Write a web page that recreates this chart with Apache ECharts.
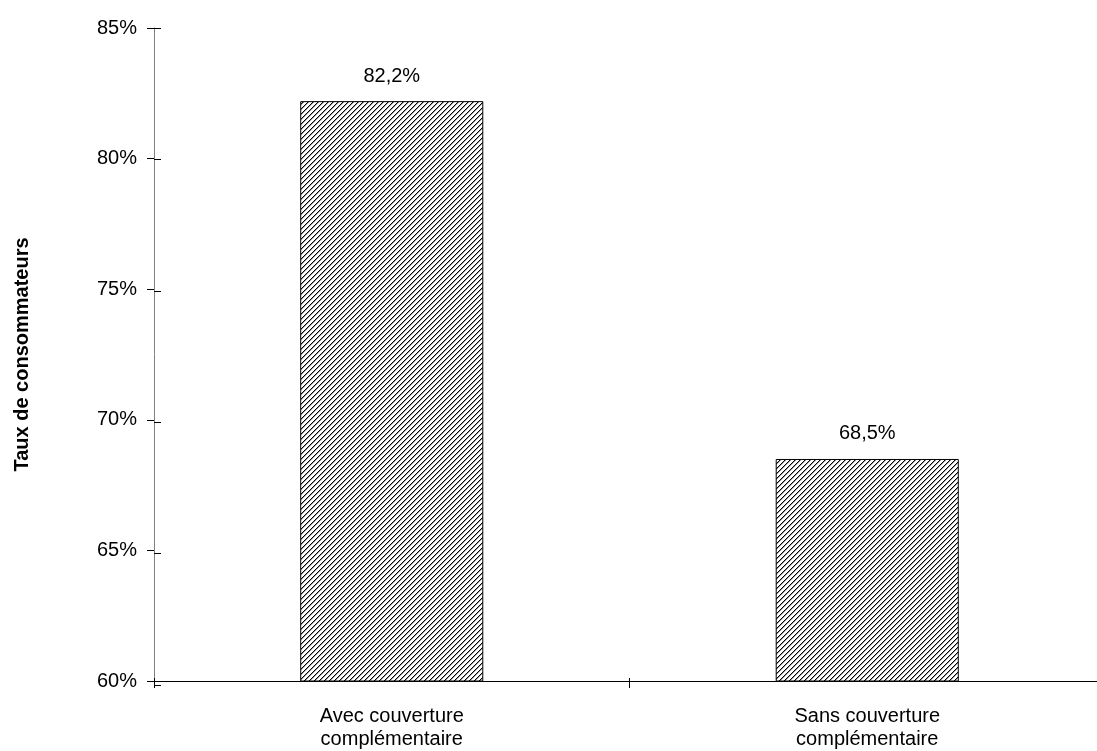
<!DOCTYPE html>
<html><head><meta charset="utf-8">
<script src="https://cdn.jsdelivr.net/npm/echarts@6/dist/echarts.min.js"></script>
<style>html,body{margin:0;padding:0;background:#fff;overflow:hidden}#c{width:1105px;height:751px}</style>
</head><body><div id="c"></div>
<script>
const categories = ['Avec couverture\ncomplémentaire', 'Sans couverture\ncomplémentaire'];
const values = [82.2, 68.5];
const yTicks = [60, 65, 70, 75, 80, 85];

const T = 5;
const tile = document.createElement('canvas');
tile.width = T; tile.height = T;
const g = tile.getContext('2d');
g.fillStyle = '#fff'; g.fillRect(0,0,T,T);
for (let i = 0; i < T; i++) {
  g.fillStyle = '#000'; g.fillRect(i, T - 1 - i, 1, 1);
  g.fillStyle = '#999'; g.fillRect((i + 1) % T, T - 1 - i, 1, 1);
}

const chart = echarts.init(document.getElementById('c'));
const font = 'Liberation Sans, Arial, sans-serif';
const FS = 20;
const gridBox = {left: 154, top: 28, right: 0, bottom: 66};
chart.setOption({
  animation: false,
  grid: [Object.assign({}, gridBox), Object.assign({}, gridBox)],
  xAxis: [{
    type: 'category', data: categories, gridIndex: 0,
    axisLine: {lineStyle: {color: '#000', width: 1}},
    axisTick: {show: true, length: 7, lineStyle: {color: '#000'}},
    axisLabel: {color: '#000', fontFamily: font, fontSize: FS, lineHeight: 23, margin: 24}
  }, {
    type: 'category', data: categories, gridIndex: 1,
    axisLine: {show: false},
    axisTick: {show: true, inside: true, length: 7, lineStyle: {color: '#000'}},
    axisLabel: {show: false}
  }],
  yAxis: [{
    type: 'value', gridIndex: 0, min: yTicks[0], max: yTicks[yTicks.length-1], interval: 5,
    name: 'Taux de consommateurs', nameLocation: 'middle', nameGap: 122,
    nameTextStyle: {fontFamily: font, fontSize: FS, fontWeight: 'bold', color: '#000'},
    axisLine: {show: true, lineStyle: {color: '#808080', width: 1}},
    axisTick: {show: true, length: 7, lineStyle: {color: '#000'}},
    splitLine: {show: false},
    axisLabel: {color: '#000', fontFamily: font, fontSize: FS, margin: 17, formatter: v => v + '%'}
  }, {
    type: 'value', gridIndex: 1, min: yTicks[0], max: yTicks[yTicks.length-1], interval: 5,
    axisLine: {show: false},
    axisTick: {show: true, inside: true, length: 7, lineStyle: {color: '#000'}},
    splitLine: {show: false}, axisLabel: {show: false}
  }],
  series: [{
    type: 'bar', data: values, xAxisIndex: 0, yAxisIndex: 0, barWidth: '38.5%',
    itemStyle: {color: {image: tile, repeat: 'repeat'}, borderColor: '#000', borderWidth: 1},
    label: {show: true, position: 'top', distance: 15, color: '#000', fontFamily: font, fontSize: FS,
      formatter: p => p.value.toFixed(1).replace('.', ',') + '%'}
  }]
});
</script></body></html>
